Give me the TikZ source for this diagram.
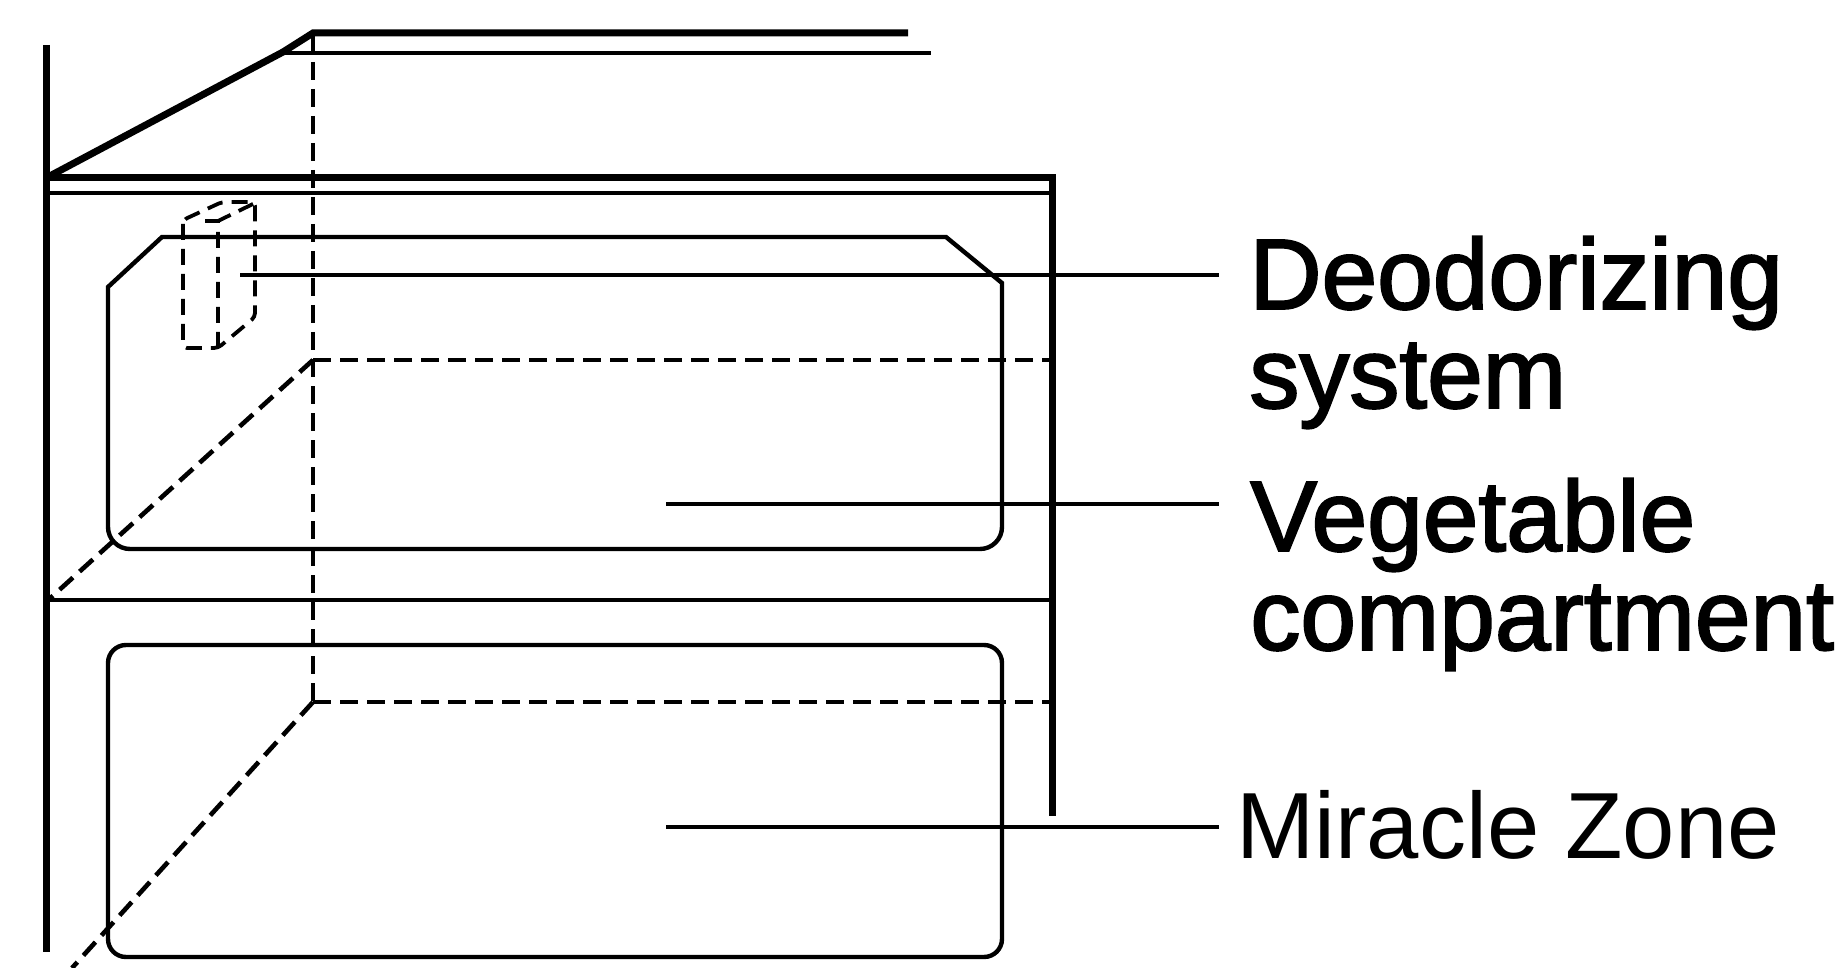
\documentclass[tikz,border=0pt]{standalone}
\usepackage{fontspec}
\usepackage{tikz}
\usetikzlibrary{positioning}
\setmainfont{Liberation Sans}
\newfontfamily\heavyfont[FakeBold=2]{Liberation Sans}

\begin{document}
\begin{tikzpicture}[x=0.5pt, y=-0.5pt,
		wall/.style={line width=3.5pt},
		panel/.style={line width=2.2pt},
		hidden/.style={line width=2.3pt, dash pattern=on 9pt off 4.5pt},
		smallhidden/.style={line width=1.9pt, dash pattern=on 8pt off 4.5pt},
		leader/.style={line width=2pt},
		calloutbold/.style={font=\heavyfont\fontsize{50pt}{49.5pt}\selectfont, align=left, inner xsep=15pt, inner ysep=0pt},
		calloutplain/.style={font=\fontsize{47pt}{50pt}\selectfont, align=left, inner xsep=8.5pt, inner ysep=0pt}]
		\useasboundingbox (0,0) rectangle (1848,968);
		% Cabinet outline
		\draw[wall] (46,45) -- (46,952);
		\draw[wall] (46,178) -- (283,52) -- (313,33) -- (908,33);
		\draw[panel] (283,53) -- (931,53);
		\draw[wall] (46,178) -- (1052,178) -- (1052,816);
		\draw[panel] (46,193) -- (1049,193);
		\draw[panel] (46,600) -- (1049,600);
		
		% Hidden back edges
		\draw[panel] (313,33) -- (313,53);
		\draw[hidden] (313,62) -- (313,702);
		\draw[hidden] (313,702) -- (1049,702);
		\draw[hidden] (313,360) -- (1049,360);
		\draw[hidden] (313,360) -- (46,602);
		\draw[hidden] (313,702) -- (72,968);
		
		% Drawers
		\draw[panel] (108,287) -- (162,237) -- (946,237) -- (1002,283) [rounded corners=11pt] -- (1002,549) -- (108,549) [sharp corners] -- cycle;
		\draw[panel, rounded corners=9pt] (108,645) rectangle (1002,957);
		
		% Deodorizer cartridge
		\draw[smallhidden, rounded corners=2pt] (183,220) -- (183,348) -- (218,348) -- (255,317) -- (255,202) -- (222,202) -- cycle;
		\draw[smallhidden] (218,348) -- (218,221) -- (255,203);
		\draw[smallhidden] (205,221) -- (218,221);
		
		% Labels
		\node[calloutbold, anchor=north west] (deodorizer) at (1219,236) {Deodorizing\\system};
		\node[calloutbold, anchor=north west] (vegetable) at (1220,478) {Vegetable\\\baselineskip=50.5pt compartment};
		\node[calloutplain, anchor=north west] (miracle) at (1219,790) {Miracle Zone};
		
		\coordinate (deodorizerstart) at (240,275);
		\coordinate (vegetablestart) at (666,504);
		\coordinate (miraclestart) at (666,827);
		\coordinate (vegetableend) at (1219,504);
		\draw[leader] (deodorizerstart) -- (deodorizerstart -| deodorizer.west);
		\draw[leader] (vegetablestart) -- (vegetableend);
		\draw[leader] (miraclestart) -- (miraclestart -| miracle.west);
	\end{tikzpicture}
\end{document}
